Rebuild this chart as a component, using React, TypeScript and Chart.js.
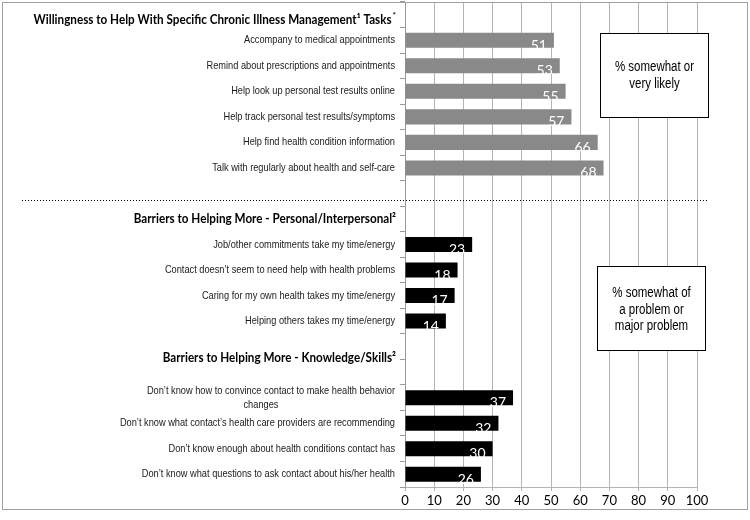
import React, { useEffect, useRef } from 'react';
import { Chart, registerables } from 'chart.js';

Chart.register(...registerables);

const headerTitles = [
  'Willingness to Help With Specific Chronic Illness Management¹ Tasks',
  'Barriers to Helping More - Personal/Interpersonal²',
  'Barriers to Helping More - Knowledge/Skills²',
];
const headerMarks = ['*', '', ''];

const taskLabels = [
  'Accompany to medical appointments',
  'Remind about prescriptions and appointments',
  'Help look up personal test results online',
  'Help track personal test results/symptoms',
  'Help find health condition information',
  'Talk with regularly about health and self-care',
];
const taskValues = [51, 53, 55, 57, 66, 68];

const personalLabels = [
  'Job/other commitments take my time/energy',
  'Contact doesn’t seem to need help with health problems',
  'Caring for my own health takes my time/energy',
  'Helping others takes my time/energy',
];
const personalValues = [23, 18, 17, 14];

const knowledgeLabels: (string | string[])[] = [
  ['Don’t know how to convince contact to make health behavior', 'changes'],
  'Don’t know what contact’s health care providers are recommending',
  'Don’t know enough about health conditions contact has',
  'Don’t know what questions to ask contact about his/her health',
];
const knowledgeValues = [37, 32, 30, 26];

const boxTexts = [
  ['% somewhat or', 'very likely'],
  ['% somewhat of', 'a problem or', 'major problem'],
];

const xMin = 0;
const xMax = 100;
const xStep = 10;

const taskColor = '#898989';
const barrierColor = '#000000';

const NARROW_FONT = '"Liberation Sans", Arial, sans-serif';
const NARROW = 0.82;
const LABEL_NARROW = 0.84;
const HEAD_FONT = 'Lato, "Open Sans", sans-serif';

function drawScaled(
  ctx: CanvasRenderingContext2D,
  text: string,
  x: number,
  y: number,
  sx: number,
  align: CanvasTextAlign,
) {
  ctx.save();
  ctx.translate(x, y);
  ctx.scale(sx, 1);
  ctx.textAlign = align;
  ctx.fillText(text, 0, 0);
  ctx.restore();
}

export default function App() {
  const ref = useRef<HTMLCanvasElement | null>(null);

  useEffect(() => {
    document.body.style.margin = '0';
    const canvas = ref.current;
    if (!canvas) return;

    const labels: (string | string[])[] = [
      '', ...taskLabels, '', '', ...personalLabels, '', '', ...knowledgeLabels,
    ];
    const values: (number | null)[] = [
      null, ...taskValues, null, null, ...personalValues, null, null, ...knowledgeValues,
    ];
    const colors: string[] = [
      'transparent', ...taskValues.map(() => taskColor), 'transparent', 'transparent',
      ...personalValues.map(() => barrierColor), 'transparent', 'transparent',
      ...knowledgeValues.map(() => barrierColor),
    ];
    // row positions (category index, fractional) for headers and separator
    const headerRows = [0.2, 8, 13.45];
    const separatorRow = 7.25;

    const overlay = {
      id: 'overlay',
      afterDraw(chart: any) {
        const ctx = chart.ctx as CanvasRenderingContext2D;
        const xs = chart.scales.x;
        const ys = chart.scales.y;
        ctx.save();

        // category labels
        const labelRight = chart.chartArea.left - 10;
        ctx.fillStyle = '#1a1a1a';
        ctx.font = '11px ' + NARROW_FONT;
        ctx.textBaseline = 'middle';
        labels.forEach((lab, i) => {
          if (!lab || (Array.isArray(lab) && lab.length === 0)) return;
          const y = ys.getPixelForValue(i);
          if (Array.isArray(lab)) {
            const lh = 14;
            const w0 = ctx.measureText(lab[0]).width * LABEL_NARROW;
            const cx = labelRight - w0 / 2;
            lab.forEach((ln, k) => {
              const yy = y + (k - (lab.length - 1) / 2) * lh;
              if (k === 0) drawScaled(ctx, ln, labelRight, yy, LABEL_NARROW, 'right');
              else drawScaled(ctx, ln, cx - 10, yy, LABEL_NARROW, 'center');
            });
          } else {
            drawScaled(ctx, lab, labelRight, y, LABEL_NARROW, 'right');
          }
        });

        // value labels
        const meta = chart.getDatasetMeta(0);
        ctx.font = '14px ' + HEAD_FONT;
        ctx.fillStyle = '#ffffff';
        ctx.textAlign = 'right';
        ctx.textBaseline = 'middle';
        meta.data.forEach((bar: any, i: number) => {
          const v = values[i];
          if (v == null) return;
          ctx.fillText(String(v), bar.x - 7, bar.y + 5);
        });

        // headers
        ctx.font = 'bold 13px ' + HEAD_FONT;
        const hs = 358 / ctx.measureText(headerTitles[0]).width;
        const rightEdge = chart.chartArea.left - 9;
        headerTitles.forEach((t, i) => {
          const y = ys.getPixelForValue(headerRows[i]);
          ctx.textBaseline = 'middle';
          ctx.fillStyle = '#000';
          let re = rightEdge;
          if (headerMarks[i]) {
            ctx.font = 'bold 8px ' + HEAD_FONT;
            drawScaled(ctx, headerMarks[i], re, y - 4, 1, 'right');
            re -= ctx.measureText(headerMarks[i]).width + 1;
          }
          ctx.font = 'bold 13px ' + HEAD_FONT;
          drawScaled(ctx, t, re, y, hs, 'right');
        });

        // dotted separator
        const sy = Math.round(ys.getPixelForValue(separatorRow)) + 0.5;
        ctx.strokeStyle = '#000';
        ctx.lineWidth = 1;
        ctx.setLineDash([1, 2]);
        ctx.beginPath();
        ctx.moveTo(22, sy);
        ctx.lineTo(xs.getPixelForValue(103.5), sy);
        ctx.stroke();
        ctx.setLineDash([]);

        // boxes
        const boxes = [
          { x0: 66.8, x1: 103.8, r0: 0.7, r1: 4.0, lines: boxTexts[0] },
          { x0: 65.8, x1: 102.8, r0: 9.83, r1: 13.13, lines: boxTexts[1] },
        ];
        boxes.forEach((b, bi) => {
          const l = Math.round(xs.getPixelForValue(b.x0)) + 0.5;
          const r = Math.round(xs.getPixelForValue(b.x1)) + 0.5;
          const t = Math.round(ys.getPixelForValue(b.r0)) + 0.5;
          const bt = Math.round(ys.getPixelForValue(b.r1)) + 0.5;
          ctx.fillStyle = '#fff';
          ctx.fillRect(l, t, r - l, bt - t);
          ctx.strokeStyle = '#000';
          ctx.lineWidth = 1;
          ctx.strokeRect(l, t, r - l, bt - t);
          ctx.fillStyle = '#000';
          ctx.font = '14px ' + NARROW_FONT;
          ctx.textBaseline = 'middle';
          const cx = (l + r) / 2;
          const cy = (t + bt) / 2 + (bi === 1 ? 1.5 : 0);
          const lh = 16.5;
          b.lines.forEach((ln, k) => {
            drawScaled(ctx, ln, cx, cy + (k - (b.lines.length - 1) / 2) * lh, NARROW, 'center');
          });
        });

        // outer frame
        ctx.strokeStyle = '#a0a0a0';
        ctx.lineWidth = 1;
        ctx.strokeRect(2.5, 2.5, 745, 507);
        ctx.restore();
      },
    };

    const chart = new Chart(canvas, {
      type: 'bar',
      data: {
        labels,
        datasets: [
          {
            data: values,
            backgroundColor: colors,
            barPercentage: 0.59,
            categoryPercentage: 1,
          },
        ],
      },
      options: {
        indexAxis: 'y',
        responsive: false,
        animation: false,
        layout: { padding: { top: 2, right: 53, left: 0, bottom: 0 } },
        plugins: { legend: { display: false }, tooltip: { enabled: false } },
        scales: {
          x: {
            min: xMin,
            max: xMax,
            afterFit: (s: any) => { s.height = 33; },
            ticks: {
              stepSize: xStep,
              color: '#000',
              font: { family: HEAD_FONT, size: 13 },
              padding: 2,
              maxRotation: 0,
              minRotation: 0,
              autoSkip: false,
            },
            grid: { color: '#b4b4b4', tickLength: 4 },
            border: { color: '#b4b4b4' },
          },
          y: {
            afterFit: (s: any) => { s.width = 405; },
            ticks: { display: false },
            grid: { drawOnChartArea: false, drawTicks: true, tickLength: 5, color: '#999', offset: true },
            border: { color: '#999' },
          },
        },
      },
      plugins: [overlay],
    } as any);

    return () => chart.destroy();
  }, []);

  return <canvas ref={ref} width={750} height={520} style={{ display: 'block' }} />;
}
